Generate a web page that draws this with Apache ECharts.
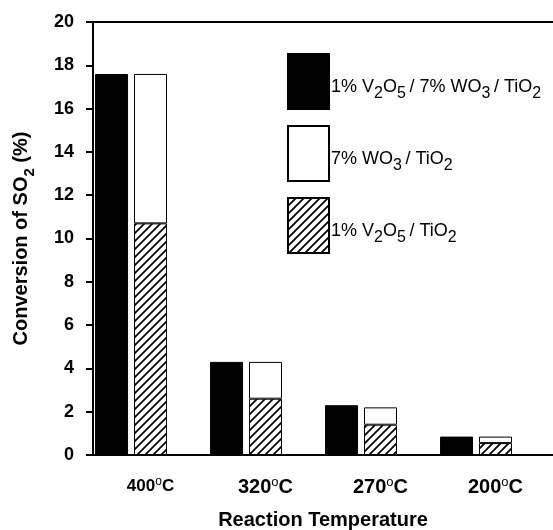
<!DOCTYPE html>
<html>
<head>
<meta charset="utf-8">
<script src="https://cdn.jsdelivr.net/npm/echarts@6/dist/echarts.min.js"></script>
<style>
  html, body { margin: 0; padding: 0; background: #fff; }
  #chart { width: 553px; height: 530px; }
</style>
</head>
<body>
<div id="chart"></div>
<script>
// Reaction temperatures (x categories)
const temperatures = ["400", "320", "270", "200"];
// 1% V2O5 / 7% WO3 / TiO2 (black bars)
const vwTi = [17.6, 4.3, 2.3, 0.85];
// 1% V2O5 / TiO2 (hatched, bottom of stack)
const vTi = [10.7, 2.6, 1.4, 0.55];
// 7% WO3 / TiO2 (white, top of stack)
const wTi = [6.9, 1.7, 0.8, 0.3];
// empty third slot that keeps the pair left of the band centre
const spacer = [0, 0, 0, 0];
const yTicks = [0, 2, 4, 6, 8, 10, 12, 14, 16, 18, 20];

const legendText = {
  vw: "1% V{sub|2}O{sub|5}\u2009/ 7% WO{sub|3}\u2009/ TiO{sub|2}",
  w: "7% WO{sub|3}\u2009/ TiO{sub|2}",
  v: "1% V{sub|2}O{sub|5}\u2009/ TiO{sub|2}"
};

// diagonal hatch pattern
function hatch() {
  const c = document.createElement("canvas");
  c.width = 8; c.height = 8;
  const g = c.getContext("2d");
  g.fillStyle = "#fff";
  g.fillRect(0, 0, 8, 8);
  g.strokeStyle = "#000";
  g.lineWidth = 1.8;
  g.beginPath();
  g.moveTo(-2, 10); g.lineTo(10, -2);
  g.moveTo(-6, 6); g.lineTo(6, -6);
  g.moveTo(2, 14); g.lineTo(14, 2);
  g.stroke();
  return c;
}

const font = "Liberation Sans, Arial, sans-serif";
const chart = echarts.init(document.getElementById("chart"));

chart.setOption({
  animation: false,
  textStyle: { fontFamily: font, color: "#000" },
  grid: { left: 93, right: 0, top: 22, bottom: 75, outerBoundsMode: "none", containLabel: false },
  legend: {
    orient: "vertical",
    left: 282,
    top: 48,
    icon: "rect",
    itemWidth: 41,
    itemHeight: 55,
    itemGap: 15,
    selectedMode: false,
    data: ["vw", "w", "v"],
    formatter: name => legendText[name],
    textStyle: {
      fontSize: 18,
      color: "#000",
      padding: [11, 0, 0, -3],
      rich: {
        sub: { fontSize: 16, verticalAlign: "bottom", padding: [0, 0, -6, 0] }
      }
    }
  },
  xAxis: [
    {
      type: "category",
      data: temperatures,
      axisLine: { lineStyle: { color: "#000", width: 2 } },
      axisTick: { show: false },
      axisLabel: {
        interval: 0,
        margin: 21,
        formatter: (v, i) => (i === 0 ? "{s|" + v + "}{ssup|o}{s|C}" : "{b|" + v + "}{sup|o}{b|C}"),
        rich: {
          s: { fontSize: 17, fontWeight: "bold", color: "#000", fontFamily: font },
          ssup: { fontSize: 12, color: "#000", verticalAlign: "top", padding: [0, 0, 8, 0], fontFamily: font },
          b: { fontSize: 20, fontWeight: "bold", color: "#000", fontFamily: font },
          sup: { fontSize: 13, color: "#000", verticalAlign: "top", padding: [0, 0, 9, 0], fontFamily: font }
        }
      },
      name: "Reaction Temperature",
      nameLocation: "middle",
      nameGap: 55,
      nameTextStyle: { fontSize: 20, fontWeight: "bold", color: "#000" }
    },
    {
      type: "category",
      position: "top",
      data: temperatures,
      axisLine: { lineStyle: { color: "#000", width: 2 } },
      axisTick: { show: false },
      axisLabel: { show: false }
    }
  ],
  yAxis: {
    type: "value",
    min: 0,
    max: 20,
    interval: 2,
    splitLine: { show: false },
    axisLine: { show: true, lineStyle: { color: "#000", width: 2 } },
    axisTick: { show: true, length: 7, lineStyle: { color: "#000", width: 2 } },
    axisLabel: {
      fontSize: 18,
      fontWeight: "bold",
      color: "#000",
      margin: 19,
      formatter: v => (yTicks.includes(v) ? String(v) : "")
    },
    name: "Conversion of SO{sub|2} (%)",
    nameLocation: "middle",
    nameGap: 62,
    nameTextStyle: {
      fontSize: 20,
      fontWeight: "bold",
      color: "#000",
      rich: {
        sub: { fontSize: 15, fontWeight: "bold", verticalAlign: "bottom", padding: [0, 0, -6, 0] }
      }
    }
  },
  series: [
    {
      name: "vw",
      type: "bar",
      data: vwTi,
      barWidth: 33,
      barGap: "18%",
      itemStyle: { color: "#000", borderColor: "#000", borderWidth: 1 }
    },
    {
      name: "v",
      type: "bar",
      stack: "s",
      data: vTi,
      barWidth: 33,
      itemStyle: { color: { image: hatch(), repeat: "repeat" }, borderColor: "#000", borderWidth: 1 }
    },
    {
      name: "w",
      type: "bar",
      stack: "s",
      data: wTi,
      barWidth: 33,
      itemStyle: { color: "#fff", borderColor: "#000", borderWidth: 1 }
    },
    {
      name: "spacer",
      type: "bar",
      data: spacer,
      barWidth: 33,
      itemStyle: { color: "rgba(0,0,0,0)" },
      silent: true
    }
  ]
});
</script>
</body>
</html>
